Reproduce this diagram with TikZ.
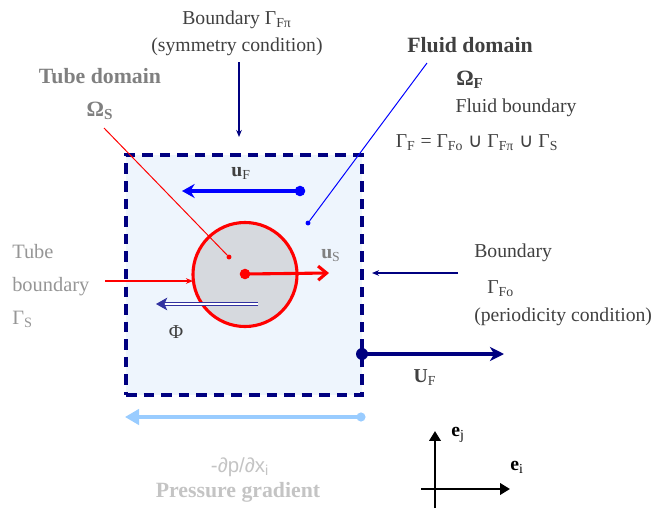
\documentclass[tikz,border=0pt]{standalone}
\usepackage{fontspec}
\setmainfont{Liberation Serif}
\newfontfamily\arialfont{Liberation Sans}
\newfontfamily\symbfont{DejaVu Sans}
\usepackage{xcolor}
\usepackage{tikz}
\usetikzlibrary{positioning, arrows.meta}

\definecolor{navy}{RGB}{0,0,128}
\definecolor{fluidfill}{RGB}{238,245,253}
\definecolor{tubefill}{RGB}{214,217,222}
\definecolor{phiblue}{RGB}{50,50,160}
\definecolor{pgrad}{RGB}{153,204,255}
\definecolor{darktext}{RGB}{64,64,64}
\definecolor{midtext}{RGB}{128,128,128}
\definecolor{softtext}{RGB}{150,150,150}
\definecolor{lighttext}{RGB}{196,196,196}

\begin{document}
\begin{tikzpicture}[x=0.025cm, y=-0.025cm,
			txt/.style={font=\fontsize{14}{19}\selectfont, text=darktext, inner sep=0pt, align=center},
			boldtxt/.style={font=\fontsize{15.5}{24}\selectfont\bfseries, inner sep=0pt, align=center},
			blob/.style={circle, fill, inner sep=0pt, minimum size=#1},
			thinarrow/.style={-{Stealth[length=5pt, width=4pt]}, draw=navy, line width=1pt},
			leader/.style={line width=0.7pt}
			]
			\useasboundingbox (0,0) rectangle (653,508);
			
			% Dominios
			\node[draw=navy, line width=2.8pt, dash pattern=on 7.5pt off 5pt, fill=fluidfill, minimum width=5.9cm, minimum height=6cm, inner sep=0pt] (fluid) at (244,275) {};
			\node[draw=red, line width=2.2pt, fill=tubefill, circle, minimum size=2.6cm, inner sep=0pt] (tube) at (245,274.5) {};
			
			% Pontos
			\node[blob=7.5pt, red]   (tubecenter) at (245,274) {};
			\node[blob=3.5pt, red]   (tubepick)   at (229,257) {};
			\node[blob=7.5pt, blue]  (ufdot)      at (300,191) {};
			\node[blob=3.5pt, blue]  (fluidpick)  at (308,223) {};
			\node[blob=8.5pt, navy]  (UFdot)      at (362,354) {};
			\node[blob=6.5pt, pgrad] (pdot)       at (361,417) {};
			
			\coordinate (usend)     at (329,273);
			\coordinate (tubelead)  at (104,128);
			\coordinate (ufend)     at (182,191);
			\coordinate (fluidlead) at (427,63);
			\coordinate (symtop)    at (239,62);
			\coordinate (symtip)    at (239,137);
			\coordinate (pertail)   at (458,273);
			\coordinate (pertip)    at (372,273);
			\coordinate (tbtail)    at (105,281);
			\coordinate (tbtip)     at (193,281);
			\coordinate (phitail)   at (258,304);
			\coordinate (phitip)    at (156,304);
			\coordinate (UFend)     at (504,354);
			\coordinate (pend)      at (125,417);
			\coordinate (ejbase)    at (435,508);
			\coordinate (ejtip)     at (435,431);
			\coordinate (eibase)    at (421,489);
			\coordinate (eitip)     at (510,489);
			
			% Textos
			\node[txt] (symlabel) at (237,33) {Boundary Γ\textsubscript{Fπ}\\(symmetry condition)};
			\node[boldtxt, text=midtext] (tubelabel) at (100,94) {Tube domain\\Ω\textsubscript{S}};
			\node[boldtxt, text=darktext] (fluidlabel) at (470,63) {Fluid domain\\Ω\textsubscript{F}};
			\node[txt] (fbound) at (516,108) {Fluid boundary};
			\node[txt] (fgamma) at (477,143) {Γ\textsubscript{F} = Γ\textsubscript{Fo} {\symbfont ∪} Γ\textsubscript{Fπ} {\symbfont ∪} Γ\textsubscript{S}};
			\node[txt, text=softtext, align=left, anchor=west, font=\fontsize{14.5}{23.5}\selectfont] (tblabel) at (12,286) {Tube\\boundary\\Γ\textsubscript{S}};
			\node[txt, anchor=west] (perlabel1) at (474,253) {Boundary};
			\node[txt, anchor=west] (perlabel2) at (487,289) {Γ\textsubscript{Fo}};
			\node[txt, anchor=west] (perlabel3) at (474,317) {(periodicity condition)};
			\node[txt] (uflabel) at (241,173) {\textbf{u}\textsubscript{F}};
			\node[txt, text=midtext, anchor=west] (uslabel) at (321,256) {\textbf{u}\textsubscript{S}};
			\node[txt] (philabel) at (176,332) {Φ};
			\node[txt, text=darktext] (UFlabel) at (425,378) {\textbf{U}\textsubscript{F}};
			\node[txt, text=lighttext, font=\fontsize{14.5}{17}\arialfont] (plabel) at (240,467) {-∂p/∂x\textsubscript{i}};
			\node[boldtxt, text=lighttext] (pglabel) at (238,492) {Pressure gradient};
			\node[txt, text=black] (ejlabel) at (458,435) {\textbf{e}\textsubscript{j}};
			\node[txt, text=black] (eilabel) at (517,467) {\textbf{e}\textsubscript{i}};
			
			% Setas
			\draw[red, line width=2.2pt, -{Straight Barb[length=6pt, width=10pt]}] (tubecenter.center) -- (usend);
			\draw[red, leader] (tubelead) -- (tubepick);
			\draw[blue, line width=2.8pt, -{Stealth[length=9pt, width=10pt, inset=3pt]}] (ufdot.center) -- (ufend);
			\draw[blue, leader] (fluidpick) -- (fluidlead);
			\draw[thinarrow] (symtop) -- (symtip);
			\draw[thinarrow] (pertail) -- (pertip);
			\draw[red, line width=1pt, -{Stealth[length=5pt, width=4pt]}] (tbtail) -- (tbtip);
			\draw[phiblue, double=white, double distance=1.5pt, line width=0.7pt, -{Stealth[length=8pt, width=9pt, inset=2pt]}] (phitail) -- (phitip);
			\draw[navy, line width=2.8pt, -{Stealth[length=10pt, width=10pt, inset=3pt]}] (UFdot.center) -- (UFend);
			\draw[pgrad, line width=2.2pt, -{Triangle[length=10pt, width=11pt]}] (pdot.center) -- (pend);
			\draw[line width=1.8pt, -{Triangle[length=7pt, width=8pt]}] (ejbase) -- (ejtip);
			\draw[line width=1.8pt, -{Triangle[length=7pt, width=8pt]}] (eibase) -- (eitip);
			
		\end{tikzpicture}
\end{document}
